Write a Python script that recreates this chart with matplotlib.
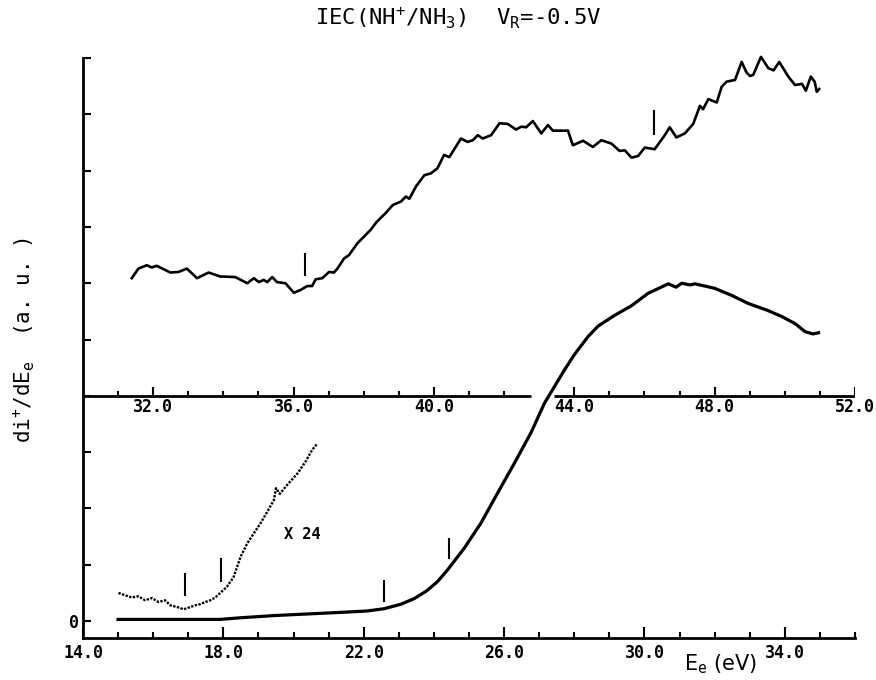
import numpy as np
import matplotlib
matplotlib.use("Agg")
from matplotlib import pyplot as plt

plt.rcParams["mathtext.fontset"] = "custom"
plt.rcParams["mathtext.rm"] = "DejaVu Sans Mono"
plt.rcParams["mathtext.it"] = "DejaVu Sans Mono"
plt.rcParams["mathtext.bf"] = "DejaVu Sans Mono:bold"

# lower solid curve (bottom energy scale, eV)
low_e = [15.0, 16.0, 17.0, 17.9, 18.5, 19.5, 20.5, 21.5, 22.1, 22.58, 23.06, 23.44, 23.8, 24.1,
         24.39, 24.87, 25.34, 25.82, 26.29, 26.77, 27.15, 27.72, 28.0, 28.39, 28.68, 29.15,
         29.63, 30.1, 30.68, 30.9, 31.06, 31.3, 31.44, 32.0, 32.5, 32.96, 33.5, 33.91, 34.3,
         34.58, 34.8, 34.96]
low_y = [0.03, 0.03, 0.03, 0.03, 0.06, 0.10, 0.13, 0.16, 0.18, 0.22, 0.30, 0.40, 0.54, 0.70,
         0.91, 1.30, 1.74, 2.28, 2.80, 3.35, 3.87, 4.46, 4.73, 5.05, 5.24, 5.43,
         5.60, 5.82, 5.99, 5.93, 6.00, 5.97, 5.99, 5.91, 5.78, 5.64, 5.52, 5.41, 5.28,
         5.14, 5.10, 5.12]

# threshold region magnified x24 (dotted)
mag_e = [15.01, 15.2, 15.39, 15.58, 15.77, 15.96, 16.15, 16.34, 16.49, 16.68, 16.87, 17.01,
         17.2, 17.34, 17.49, 17.63, 17.77, 17.91, 18.1, 18.29, 18.49, 18.68, 18.87, 19.06,
         19.25, 19.44, 19.5, 19.61, 19.82, 20.11, 20.34, 20.53, 20.66]
mag_y = [0.50, 0.46, 0.42, 0.44, 0.37, 0.41, 0.34, 0.37, 0.28, 0.25, 0.21, 0.24,
         0.28, 0.30, 0.34, 0.37, 0.42, 0.50, 0.61, 0.78, 1.14, 1.38, 1.56, 1.74,
         1.94, 2.15, 2.36, 2.26, 2.42, 2.62, 2.83, 3.04, 3.14]

# upper curve (middle energy scale, eV)
up_e = [31.39, 31.58, 31.82, 31.96, 32.1, 32.49, 32.72, 32.96, 33.25, 33.58, 33.91, 34.34,
        34.68, 34.87, 35.01, 35.15, 35.25, 35.39, 35.53, 35.77, 36.01, 36.2, 36.39, 36.53,
        36.63, 36.82, 37.01, 37.15, 37.25, 37.44, 37.58, 37.82, 38.01, 38.2, 38.37, 38.63,
        38.83, 39.06, 39.2, 39.3, 39.49, 39.73, 39.91, 40.1, 40.29, 40.44, 40.77, 40.96,
        41.11, 41.25, 41.39, 41.63, 41.87, 42.1, 42.34, 42.49, 42.63, 42.82, 43.06, 43.25,
        43.39, 43.82, 43.96, 44.25, 44.53, 44.77, 45.06, 45.29, 45.44, 45.63, 45.82, 46.01,
        46.29, 46.58, 46.72, 46.91, 47.15, 47.39, 47.58, 47.67, 47.82, 48.06, 48.2, 48.34,
        48.58, 48.77, 48.91, 49.01, 49.1, 49.32, 49.53, 49.68, 49.84, 50.1, 50.29, 50.49,
        50.6, 50.74, 50.85, 50.91, 50.98]
up_y = [6.09, 6.26, 6.32, 6.28, 6.31, 6.19, 6.20, 6.26, 6.09, 6.19, 6.12, 6.11,
        6.00, 6.09, 6.02, 6.06, 6.02, 6.11, 6.02, 6.00, 5.83, 5.88, 5.95, 5.95,
        6.07, 6.09, 6.20, 6.19, 6.26, 6.44, 6.50, 6.71, 6.83, 6.95, 7.09, 7.25,
        7.39, 7.45, 7.54, 7.50, 7.72, 7.92, 7.95, 8.04, 8.28, 8.24, 8.57, 8.51,
        8.54, 8.63, 8.57, 8.63, 8.84, 8.83, 8.73, 8.78, 8.77, 8.88, 8.66, 8.81,
        8.71, 8.71, 8.45, 8.53, 8.42, 8.54, 8.48, 8.35, 8.36, 8.23, 8.26, 8.41,
        8.38, 8.63, 8.77, 8.59, 8.66, 8.83, 9.15, 9.09, 9.27, 9.21, 9.49, 9.58,
        9.61, 9.93, 9.74, 9.68, 9.70, 10.02, 9.82, 9.78, 9.93, 9.67, 9.52, 9.54,
        9.42, 9.67, 9.58, 9.40, 9.45]

# threshold markers: energy, bottom, top
low_mark_e = [16.91, 17.94, 22.58, 24.42]
low_mark_lo = [0.44, 0.70, 0.34, 1.10]
low_mark_hi = [0.86, 1.12, 0.73, 1.47]
up_mark_e = [36.32, 46.27]
up_mark_lo = [6.13, 8.63]
up_mark_hi = [6.54, 9.08]

offset = 16.0          # middle scale = bottom scale + 16 eV
mid_y = 4.0            # height of the middle axis
mid_gap = (26.77, 27.43)

bottom_major = [14, 18, 22, 26, 30, 34]
mid_major = [32, 36, 40, 44, 48, 52]

mono = "DejaVu Sans Mono"

fig = plt.figure(figsize=(8.76, 6.8), dpi=100)
ax = fig.add_axes([83 / 876, 42 / 680, 772 / 876, 580 / 680])
ax.set_xlim(14, 36)
ax.set_ylim(-0.3, 10)

ax.plot(low_e, low_y, color="black", lw=2.3, zorder=3, solid_joinstyle="round")
ax.plot(mag_e, mag_y, color="black", lw=1.7, ls=(0, (1, 0.6)), zorder=3)
ax.plot(np.array(up_e) - offset, up_y, color="black", lw=1.9, zorder=3, clip_on=False)

ax.vlines(low_mark_e, low_mark_lo, low_mark_hi, color="black", lw=1.5)
ax.vlines(np.array(up_mark_e) - offset, up_mark_lo, up_mark_hi, color="black", lw=1.5)

ax.text(20.25, 1.53, "X 24", fontsize=11, family=mono, fontweight="bold",
        ha="center", va="center")

# middle axis for the upper curve, broken where the lower curve passes
ax.plot([14, mid_gap[0]], [mid_y, mid_y], color="black", lw=2, solid_capstyle="butt")
ax.plot([mid_gap[1], 36], [mid_y, mid_y], color="black", lw=2, solid_capstyle="butt")
px = 1 / 56.3
for t in range(31, 53):
    e = t - offset
    if mid_gap[0] < e < mid_gap[1]:
        continue
    h = 8 * px if t in mid_major else 3.5 * px
    ax.plot([e, e], [mid_y, mid_y + h], color="black", lw=1.5)
for t in mid_major:
    ax.text(t - offset, mid_y - 0.03, f"{t:.1f}", fontsize=12, family=mono,
            fontweight="bold", ha="center", va="top")

for s in ["top", "right"]:
    ax.spines[s].set_visible(False)
for s in ["left", "bottom"]:
    ax.spines[s].set_linewidth(2)

ax.set_xticks(bottom_major)
ax.set_xticks(np.arange(15, 37), minor=True)
ax.set_xticklabels([f"{t:.1f}" for t in bottom_major], fontsize=12, family=mono,
                   fontweight="bold")
ax.set_yticks(range(0, 11))
ax.set_yticklabels(["0"] + [""] * 10, fontsize=12, family=mono, fontweight="bold")
ax.tick_params(axis="x", which="major", direction="in", length=8, width=1.5, pad=4)
ax.tick_params(axis="x", which="minor", direction="in", length=4, width=1.5)
ax.tick_params(axis="y", direction="in", length=6, width=1.5, pad=3)

fig.text(458 / 876, 1 - 18 / 680, "IEC(NH$^{+}$/NH$_{3}$)  V$_{R}$=-0.5V",
         fontsize=16, family=mono, ha="center", va="center")
fig.text(721 / 876, 1 - 664 / 680, "E$_{e}$ (eV)", fontsize=15, family="DejaVu Sans",
         ha="center", va="center")
fig.text(24 / 876, 1 - 340 / 680, "di$^{+}$/dE$_{e}$  (a. u. )", fontsize=15,
         family=mono, rotation=90, ha="center", va="center")

fig.savefig("out.png", dpi=100)
